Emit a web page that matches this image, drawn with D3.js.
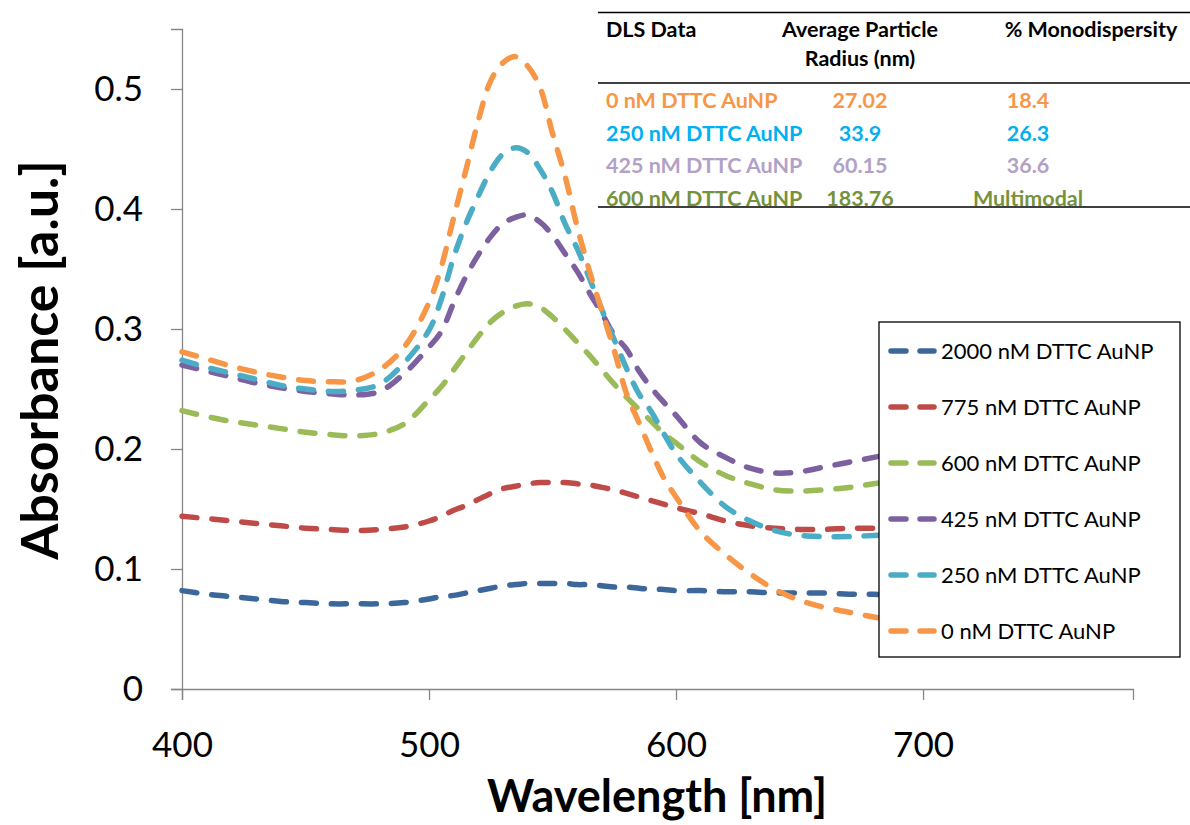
<!DOCTYPE html>
<html>
<head>
<meta charset="utf-8">
<script src="https://cdn.jsdelivr.net/npm/d3@7"></script>
<style>
  html, body { margin: 0; padding: 0; background: #fff; }
  svg { display: block; }
  text { font-family: Lato, "Open Sans", sans-serif; }
</style>
</head>
<body>
<svg id="chart" width="1190" height="825"></svg>
<script>
// UV-Vis absorbance spectra of AuNPs with increasing DTTC concentration
const wavelength = [400, 410, 420, 430, 440, 450, 460, 470, 480, 490, 500, 505, 510, 515, 520, 525, 530, 535, 540, 545,
                    550, 555, 560, 565, 570, 575, 580, 585, 590, 595, 600, 610, 620, 630, 640, 650, 660, 670, 680, 690];

const abs2000 = [0.082, 0.079, 0.077, 0.075, 0.073, 0.072, 0.071, 0.071, 0.071, 0.072, 0.075, 0.077, 0.078, 0.080, 0.082, 0.084, 0.086, 0.087, 0.088, 0.088,
                 0.088, 0.088, 0.087, 0.087, 0.086, 0.085, 0.085, 0.084, 0.083, 0.083, 0.082, 0.082, 0.081, 0.081, 0.080, 0.080, 0.080, 0.079, 0.079, 0.078];
const abs775  = [0.144, 0.142, 0.140, 0.138, 0.136, 0.134, 0.133, 0.132, 0.133, 0.135, 0.140, 0.144, 0.149, 0.153, 0.158, 0.163, 0.167, 0.169, 0.171, 0.172,
                 0.172, 0.172, 0.171, 0.170, 0.168, 0.166, 0.163, 0.160, 0.157, 0.154, 0.151, 0.146, 0.140, 0.136, 0.134, 0.133, 0.133, 0.134, 0.134, 0.135];
const abs600  = [0.232, 0.227, 0.223, 0.220, 0.217, 0.214, 0.212, 0.211, 0.213, 0.221, 0.241, 0.252, 0.266, 0.280, 0.294, 0.306, 0.314, 0.319, 0.321, 0.318,
                 0.310, 0.300, 0.289, 0.278, 0.266, 0.254, 0.243, 0.233, 0.223, 0.213, 0.205, 0.189, 0.178, 0.171, 0.166, 0.165, 0.166, 0.168, 0.171, 0.174];
const abs425  = [0.270, 0.265, 0.260, 0.255, 0.251, 0.248, 0.246, 0.245, 0.248, 0.263, 0.285, 0.298, 0.322, 0.344, 0.362, 0.377, 0.388, 0.393, 0.395, 0.389,
                 0.378, 0.363, 0.348, 0.330, 0.313, 0.295, 0.283, 0.265, 0.251, 0.239, 0.228, 0.205, 0.193, 0.184, 0.180, 0.181, 0.185, 0.189, 0.193, 0.197];
const abs250  = [0.274, 0.268, 0.263, 0.258, 0.253, 0.250, 0.248, 0.249, 0.254, 0.272, 0.299, 0.325, 0.360, 0.388, 0.411, 0.432, 0.446, 0.451, 0.447, 0.433,
                 0.414, 0.388, 0.367, 0.342, 0.316, 0.291, 0.267, 0.246, 0.231, 0.213, 0.196, 0.172, 0.152, 0.140, 0.132, 0.128, 0.127, 0.127, 0.128, 0.129];
const abs0    = [0.281, 0.275, 0.269, 0.264, 0.260, 0.257, 0.256, 0.257, 0.266, 0.285, 0.322, 0.352, 0.393, 0.433, 0.474, 0.507, 0.522, 0.527, 0.519, 0.501,
                 0.463, 0.428, 0.385, 0.348, 0.315, 0.282, 0.246, 0.222, 0.198, 0.176, 0.160, 0.131, 0.112, 0.096, 0.083, 0.074, 0.068, 0.064, 0.060, 0.057];

const seriesNames  = ["2000 nM DTTC AuNP", "775 nM DTTC AuNP", "600 nM DTTC AuNP", "425 nM DTTC AuNP", "250 nM DTTC AuNP", "0 nM DTTC AuNP"];
const seriesValues = [abs2000, abs775, abs600, abs425, abs250, abs0];
const seriesColors = ["#3c679b", "#be4b48", "#9bbb59", "#7d60a0", "#4bacc6", "#f79646"];

const xTicks = [400, 500, 600, 700];
const yTicks = [0, 0.1, 0.2, 0.3, 0.4, 0.5];

// DLS summary table
const dlsHeader  = ["DLS Data", "Average Particle|Radius (nm)", "% Monodispersity"];
const dlsSamples = ["0 nM DTTC AuNP", "250 nM DTTC AuNP", "425 nM DTTC AuNP", "600 nM DTTC AuNP"];
const dlsRadius  = ["27.02", "33.9", "60.15", "183.76"];
const dlsMono    = ["18.4", "26.3", "36.6", "Multimodal"];
const dlsColors  = ["#f79646", "#00b0f0", "#b2a1c7", "#76923c"];

const svg = d3.select("#chart");

const x = d3.scaleLinear().domain([400, 785]).range([182, 1133]);
const y = d3.scaleLinear().domain([0, 0.55]).range([689, 29]);

const axisColor = "#868686";

// axes
const yAxis = svg.append("g").attr("transform", "translate(182,0)")
  .call(d3.axisLeft(y).tickValues(yTicks).tickSize(11).tickPadding(28).tickFormat(d => d === 0 ? "0" : d3.format(".1f")(d)));
const xAxis = svg.append("g").attr("transform", "translate(0,689)")
  .call(d3.axisBottom(x).tickValues(xTicks).tickSize(11).tickPadding(30).tickFormat(d3.format("d")));
[yAxis, xAxis].forEach(g => {
  g.select(".domain").attr("stroke", axisColor).attr("stroke-width", 1.3);
  g.selectAll(".tick line").attr("stroke", axisColor).attr("stroke-width", 1.3);
  g.selectAll(".tick text").attr("fill", "#000").style("font-size", "35px")
    .style("font-family", "Lato, 'Open Sans', sans-serif");
});
xAxis.selectAll(".tick text").attr("dy", "0.35em").attr("y", 56);

// axis titles
svg.append("text").attr("x", 657).attr("y", 812).attr("text-anchor", "middle")
  .style("font-size", "45px").style("font-weight", "bold").text("Wavelength [nm]");
svg.append("text").attr("transform", "translate(58,360) rotate(-90)").attr("text-anchor", "middle")
  .style("font-size", "52px").style("font-weight", "bold").text("Absorbance [a.u.]");

// spectra
const line = d3.line()
  .x((d, i) => x(wavelength[i]))
  .y(d => y(d))
  .curve(d3.curveCatmullRom.alpha(0.5));

svg.append("g").selectAll("path").data(seriesValues).join("path")
  .attr("d", d => line(d))
  .attr("fill", "none")
  .attr("stroke", (d, i) => seriesColors[i])
  .attr("stroke-width", 5.5)
  .attr("stroke-linecap", "round")
  .attr("stroke-dasharray", "15 15");

// legend
const lg = svg.append("g");
lg.append("rect").attr("x", 879).attr("y", 322).attr("width", 301).attr("height", 335)
  .attr("fill", "#fff").attr("stroke", "#000").attr("stroke-width", 1.3);
seriesNames.forEach((name, i) => {
  const cy = 351 + i * 56;
  lg.append("line").attr("x1", 891).attr("x2", 934).attr("y1", cy).attr("y2", cy)
    .attr("stroke", seriesColors[i]).attr("stroke-width", 5.5).attr("stroke-linecap", "round")
    .attr("stroke-dasharray", "15 14");
  lg.append("text").attr("x", 941).attr("y", cy).attr("dy", "0.35em")
    .style("font-size", "22px").attr("fill", "#000").text(name);
});

// DLS table
const tb = svg.append("g");
[12.5, 83, 207].forEach(yy => {
  tb.append("line").attr("x1", 598).attr("x2", 1190).attr("y1", yy).attr("y2", yy)
    .attr("stroke", "#000").attr("stroke-width", 1.5);
});
const colX = [606, 860, 1028];
const fs = "21.5px";
tb.append("text").attr("x", colX[0]).attr("y", 37).style("font-size", fs).style("font-weight", "bold").text(dlsHeader[0]);
dlsHeader[1].split("|").forEach((t, j) => {
  tb.append("text").attr("x", colX[1]).attr("y", 37 + j * 29).attr("text-anchor", "middle")
    .style("font-size", fs).style("font-weight", "bold").text(t);
});
tb.append("text").attr("x", 1091).attr("y", 37).attr("text-anchor", "middle")
  .style("font-size", fs).style("font-weight", "bold").text(dlsHeader[2]);
dlsSamples.forEach((s, i) => {
  const yy = 108 + i * 32.5;
  const g = tb.append("g").attr("fill", dlsColors[i]).style("font-size", fs).style("font-weight", "bold");
  g.append("text").attr("x", colX[0]).attr("y", yy).text(s);
  g.append("text").attr("x", colX[1]).attr("y", yy).attr("text-anchor", "middle").text(dlsRadius[i]);
  g.append("text").attr("x", colX[2]).attr("y", yy).attr("text-anchor", "middle").text(dlsMono[i]);
});
</script>
</body>
</html>
